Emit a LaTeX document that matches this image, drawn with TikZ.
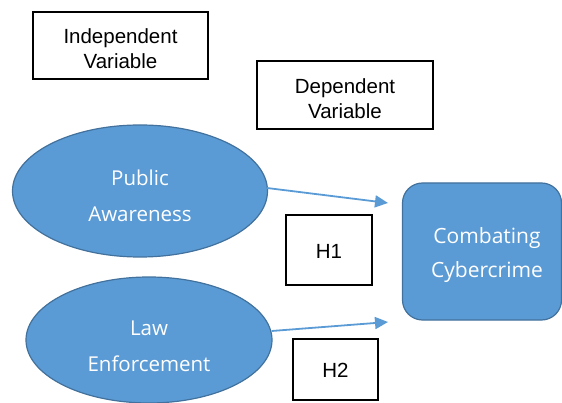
\documentclass[tikz,border=0pt]{standalone}
\usepackage{fontspec}
\setmainfont{Liberation Sans}
\newfontfamily\ovalfont{Open Sans}
\usetikzlibrary{shapes.geometric,arrows.meta}
\definecolor{ovalblue}{HTML}{5B9BD5}
\definecolor{ovalline}{HTML}{41719C}

\begin{document}
\begin{tikzpicture}[x=1pt,y=-1pt,
    labelbox/.style={draw=black,line width=1.6pt,fill=white,inner sep=0pt},
    boxtext/.style={align=center,inner sep=0pt,font=\fontsize{20.5}{25}\selectfont},
    varoval/.style={ellipse,draw=ovalline,line width=1.2pt,fill=ovalblue,inner sep=0pt},
    ovaltext/.style={text=white,align=center,inner sep=0pt,font=\ovalfont\fontsize{20.5}{36}\selectfont},
    depbox/.style={rectangle,rounded corners=20pt,draw=ovalline,line width=1.2pt,
      fill=ovalblue,inner sep=0pt},
    hyparrow/.style={draw=ovalblue,line width=1.8pt,-{Triangle[length=13pt,width=12pt]}}]
    \useasboundingbox (0,0) rectangle (562,403);
    \node[labelbox,minimum width=175pt,minimum height=67pt,
      label={[boxtext,yshift=-3pt]center:{Independent\\Variable}}] (indep) at (120.5,45.5) {};
    \node[labelbox,minimum width=176pt,minimum height=68pt,
      label={[boxtext,yshift=-3.5pt]center:{Dependent\\Variable}}] (dep) at (345,95) {};
    %\\
    \node[varoval,minimum width=255pt,minimum height=132pt,
      label={[ovaltext,yshift=-5pt]center:{Public\\Awareness}}] (aware) at (140,191) {};
    \node[varoval,minimum width=246pt,minimum height=126pt,
      label={[ovaltext,yshift=-6pt]center:{Law\\Enforcement}}] (law) at (149,340) {};
    \node[depbox,minimum width=159pt,minimum height=137pt,
      label={[ovaltext,xshift=5pt,yshift=-4pt,font=\ovalfont\fontsize{21}{34}\selectfont]center:{Combating\\Cybercrime}}] (crime) at (482,251.5) {};
    %\\
    \node[labelbox,minimum width=86pt,minimum height=70pt,
      label={[boxtext,yshift=-1pt]center:H1}] (h1) at (329,250) {};
    \node[labelbox,minimum width=85pt,minimum height=61pt,
      label={[boxtext,yshift=-1pt]center:H2}] (h2) at (335.5,369.5) {};
    \coordinate (tipone) at (388,203);
    \coordinate (tiptwo) at (388,322);
    \draw[hyparrow] (aware.east) ++(-1,-3) -- (tipone);
    \draw[hyparrow] (law.east) ++(-1,-9) -- (tiptwo);
\end{tikzpicture}
\end{document}
